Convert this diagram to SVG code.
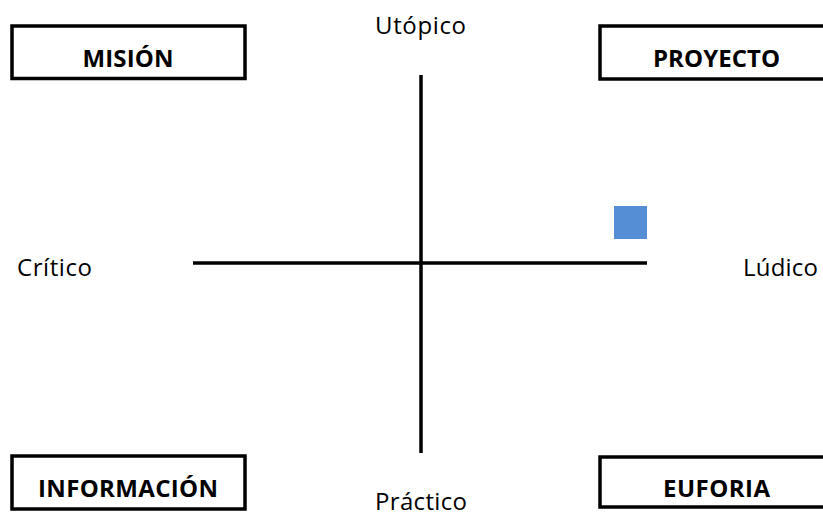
<svg xmlns="http://www.w3.org/2000/svg" width="823" height="513" viewBox="0 0 823 513">
  <style>
    .box { fill: #ffffff; stroke: #000000; stroke-width: 3.5; }
    .axis { stroke: #000000; stroke-width: 3.5; fill: none; }
    .title { font-family: "Open Sans", "Liberation Sans", sans-serif; font-size: 24px; font-weight: bold; fill: #000000; text-anchor: middle; }
    .pole { font-family: "Open Sans", "Liberation Sans", sans-serif; font-size: 24px; fill: #000000; }
  </style>
  <rect width="823" height="513" fill="#ffffff"/>

  <!-- axes -->
  <g id="connectors">
    <line class="axis" x1="421" y1="75" x2="421" y2="453"/>
    <line class="axis" x1="193" y1="263" x2="647" y2="263"/>
  </g>

  <!-- pole labels -->
  <g id="pole-top"><text class="pole" x="375" y="34" textLength="91">Utópico</text></g>
  <g id="pole-bottom"><text class="pole" x="375" y="510" textLength="92">Práctico</text></g>
  <g id="pole-left"><text class="pole" x="17" y="276" textLength="75">Crítico</text></g>
  <g id="pole-right"><text class="pole" x="743" y="276" textLength="75">Lúdico</text></g>

  <!-- quadrant boxes -->
  <g id="mision">
    <rect class="box" x="12" y="26" width="233" height="52.5"/>
    <text class="title" x="128" y="67" textLength="91">MISIÓN</text>
  </g>
  <g id="proyecto">
    <rect class="box" x="600" y="26" width="233" height="53"/>
    <text class="title" x="716.5" y="67" textLength="127">PROYECTO</text>
  </g>
  <g id="informacion">
    <rect class="box" x="12" y="456" width="233" height="53"/>
    <text class="title" x="128" y="497" textLength="180">INFORMACIÓN</text>
  </g>
  <g id="euforia">
    <rect class="box" x="600" y="457" width="233" height="50"/>
    <text class="title" x="716.5" y="497" textLength="107">EUFORIA</text>
  </g>

  <!-- position marker -->
  <g id="marker">
    <rect x="614" y="206" width="33" height="33" fill="#558ED5"/>
  </g>
</svg>
